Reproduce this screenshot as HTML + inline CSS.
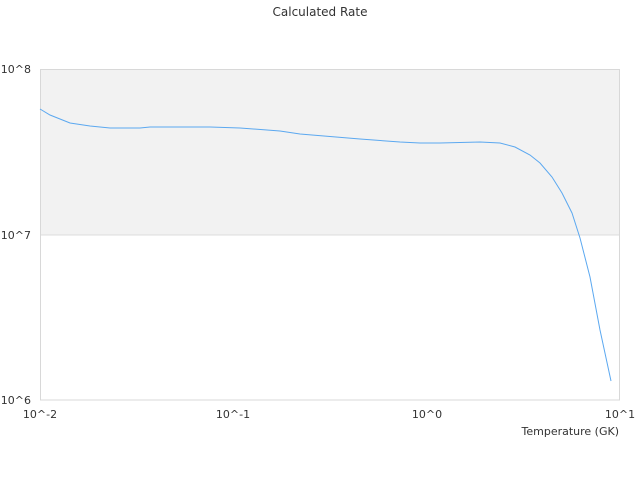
<!DOCTYPE html>
<html><head><style>body{margin:0;background:#fff}</style></head><body>
<svg width="640" height="480" xmlns="http://www.w3.org/2000/svg" font-family="DejaVu Sans, sans-serif" font-size="11" fill="#333">
<rect x="40" y="69" width="580" height="166" fill="#f2f2f2"/>
<line x1="40" y1="235" x2="620" y2="235" stroke="#dcdcdc"/>
<rect x="40.5" y="69.5" width="579" height="330.5" fill="none" stroke="#d8d8d8"/>
<polyline fill="none" stroke="#5ba8f0" stroke-width="1" points="40,109 50,115 70,123 90,126 110,128 140,128 150,127 170,127 210,127 240,128 280,131 300,134 360,139 400,142 420,143 440,143 480,142 500,143 515,147 530,155 540,163 552,177 562,193 572,213 580,238 590,277 600,330 611,381"/>
<text x="320" y="16" text-anchor="middle" font-size="12">Calculated Rate</text>
<text x="31" y="73" text-anchor="end">10^8</text>
<text x="31" y="239" text-anchor="end">10^7</text>
<text x="31" y="404" text-anchor="end">10^6</text>
<text x="40" y="418" text-anchor="middle">10^-2</text>
<text x="233" y="418" text-anchor="middle">10^-1</text>
<text x="427" y="418" text-anchor="middle">10^0</text>
<text x="620" y="418" text-anchor="middle">10^1</text>
<text x="619" y="435" text-anchor="end">Temperature (GK)</text>
</svg>
</body></html>
